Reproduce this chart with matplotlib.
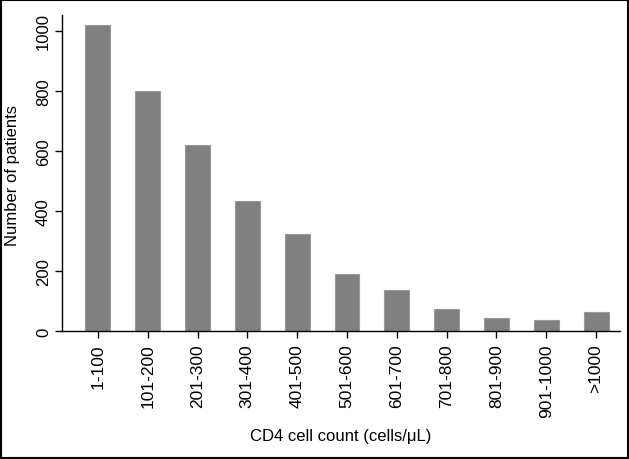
import matplotlib
matplotlib.use("Agg")
import matplotlib.pyplot as plt
from matplotlib.patches import Rectangle

categories = ["1-100", "101-200", "201-300", "301-400", "401-500", "501-600",
              "601-700", "701-800", "801-900", "901-1000", ">1000"]
patients = [1020, 800, 620, 432, 322, 190, 135, 74, 43, 35, 64]
yticks = [0, 200, 400, 600, 800, 1000]

plt.rcParams['font.family'] = ['Liberation Sans', 'DejaVu Sans']

fig = plt.figure(figsize=(6.29, 4.60), dpi=100)
ax = fig.add_axes([62/629, 1 - 332/460, (620-62)/629, (332-16)/460])

x = list(range(len(categories)))
ax.bar(x, patients, width=0.5, color='#808080', edgecolor='#999999', linewidth=0.8, zorder=2)

ax.set_xlim(-0.72, 10.48)
ax.set_ylim(0, 1053)
ax.set_yticks(yticks)
ax.set_yticklabels([str(v) for v in yticks], rotation=90, va='center', fontsize=12)
ax.set_xticks(x)
ax.set_xticklabels(categories, rotation=90, fontsize=12.5)
ax.tick_params(axis='both', direction='out', length=5, width=1, color='black')
ax.tick_params(axis='y', pad=3)
ax.tick_params(axis='x', pad=4)

for s in ['top', 'right']:
    ax.spines[s].set_visible(False)
ax.spines['left'].set_linewidth(1)
ax.spines['bottom'].set_linewidth(1)

fig.text(13/629, 1 - 175/460, "Number of patients", ha='center', va='center',
         rotation=90, fontsize=12)
fig.text(341/629, 1 - 437/460, "CD4 cell count (cells/μL)", ha='center', va='center', fontsize=12)

fig.patches.append(Rectangle((0.002, 0.002), 0.996, 0.995, transform=fig.transFigure,
                             fill=False, edgecolor='black', linewidth=1.5))

fig.savefig("out.png", dpi=100)
